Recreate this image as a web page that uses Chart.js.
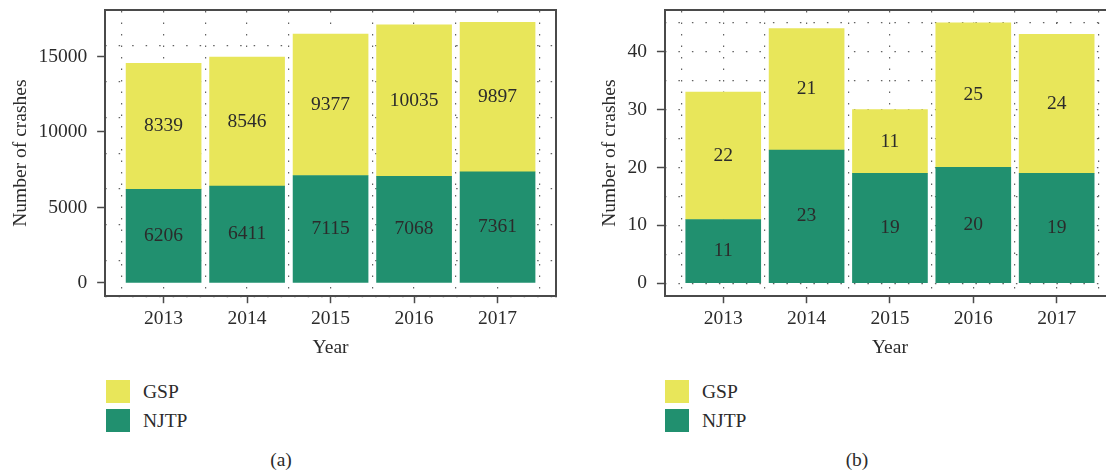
<!DOCTYPE html>
<html>
<head>
<meta charset="utf-8">
<script src="https://cdn.jsdelivr.net/npm/chart.js@4.4.1/dist/chart.umd.min.js"></script>
<style>
  body { margin: 0; width: 1106px; height: 470px; overflow: hidden; background: #fff; position: relative;
         font-family: "Liberation Serif", serif; color: #2b2b2b; }
  .panel { position: absolute; top: 0; }
  .legend { position: absolute; top: 377px; list-style: none; margin: 0; padding: 0; font-size: 19.5px; }
  .legend li { display: flex; align-items: center; height: 29px; }
  .legend .box { width: 24px; height: 23px; margin-right: 13px; }
  .caption { position: absolute; top: 449px; width: 60px; text-align: center; font-size: 19.5px; line-height: 22px; }
</style>
</head>
<body>
<div class="panel" style="left:0"><canvas id="chartA" width="560" height="364"></canvas></div>
<div class="panel" style="left:589px"><canvas id="chartB" width="530" height="364"></canvas></div>
<ul class="legend" id="legendA" style="left:106px"></ul>
<ul class="legend" id="legendB" style="left:665px"></ul>
<div class="caption" style="left:251px">(a)</div>
<div class="caption" style="left:827px">(b)</div>

<script>
// data
const years = [2013, 2014, 2015, 2016, 2017];
const njtpA = [6206, 6411, 7115, 7068, 7361];
const gspA = [8339, 8546, 9377, 10035, 9897];
const njtpB = [11, 23, 19, 20, 19];
const gspB = [22, 21, 11, 25, 24];
const yTicksA = [0, 5000, 10000, 15000];
const yTicksB = [0, 10, 20, 30, 40];

const GREEN = "#21906f";
const YELLOW = "#e8e65a";
const TEXT = "#2b2b2b";
const AXIS = "#4a4a4a";
const DOTS = "rgba(70,70,70,0.85)";
const FONT = { family: "'Liberation Serif', serif", size: 19.5 };

// numbers in the middle of each bar segment
const barValueLabels = {
  id: "barValueLabels",
  afterDatasetsDraw(chart) {
    const ctx = chart.ctx;
    ctx.save();
    ctx.font = "19.5px 'Liberation Serif', serif";
    ctx.fillStyle = TEXT;
    ctx.textAlign = "center";
    ctx.textBaseline = "middle";
    chart.data.datasets.forEach((ds, i) => {
      chart.getDatasetMeta(i).data.forEach((bar, j) => {
        const { x, y, base } = bar.getProps(["x", "y", "base"], true);
        ctx.fillText(ds.data[j], x, (y + base) / 2);
      });
    });
    ctx.restore();
  },
};

const noPad = (s) => {
  s.paddingTop = 0;
  s.paddingBottom = 0;
};

const makeChart = (id, njtp, gsp, yMin, yMax, yTicks, gridStep) =>
  new Chart(document.getElementById(id), {
    type: "bar",
    data: {
      labels: years,
      datasets: [
        { label: "NJTP", data: njtp, backgroundColor: GREEN, barThickness: 75 },
        { label: "GSP", data: gsp, backgroundColor: YELLOW, barThickness: 75 },
      ],
    },
    options: {
      responsive: false,
      animation: false,
      layout: { padding: { top: 10, right: 4 } },
      plugins: { legend: { display: false }, tooltip: { enabled: false } },
      scales: {
        x: {
          type: "linear",
          position: "bottom",
          stacked: true,
          offset: false,
          min: 2012.3,
          max: 2017.7,
          afterBuildTicks: (s) => { s.ticks = years.map((v) => ({ value: v })); },
          ticks: { callback: (v) => String(v), font: FONT, color: TEXT, padding: 4, maxRotation: 0 },
          grid: { offset: false, drawOnChartArea: false, tickLength: 7, tickColor: AXIS, tickWidth: 1.5 },
          border: { color: AXIS, width: 2 },
          title: { display: true, text: "Year", font: FONT, color: TEXT, padding: { top: 2, bottom: 4 } },
        },
        x2: {
          type: "linear",
          position: "top",
          offset: false,
          min: 2012.3,
          max: 2017.7,
          ticks: { display: false, stepSize: 0.5, includeBounds: false },
          grid: { offset: false, color: DOTS, lineWidth: 1.2, drawTicks: false },
          border: { display: true, color: AXIS, width: 2, dash: [1.5, 10] },
          afterFit: (s) => { s.height = 0; },
        },
        y: {
          stacked: true,
          min: yMin,
          max: yMax,
          afterBuildTicks: (s) => { s.ticks = yTicks.map((v) => ({ value: v })); },
          afterFit: noPad,
          ticks: { callback: (v) => String(v), font: FONT, color: TEXT, padding: 10 },
          grid: { drawOnChartArea: false, tickLength: 8, tickColor: AXIS, tickWidth: 1.5 },
          border: { color: AXIS, width: 2 },
          title: { display: true, text: "Number of crashes", font: FONT, color: TEXT, padding: { top: 9, bottom: -4 } },
        },
        y2: {
          position: "right",
          min: yMin,
          max: yMax,
          ticks: { display: false, stepSize: gridStep, includeBounds: false },
          grid: { color: DOTS, lineWidth: 1.2, drawTicks: false },
          border: { display: true, color: AXIS, width: 2, dash: [1.5, 12] },
          afterFit: (s) => { s.width = 0; noPad(s); },
        },
      },
    },
    plugins: [barValueLabels],
  });

const buildLegend = (chart, elId) => {
  const ul = document.getElementById(elId);
  chart.data.datasets.slice().reverse().forEach((ds) => {
    const li = document.createElement("li");
    const box = document.createElement("span");
    box.className = "box";
    box.style.background = ds.backgroundColor;
    li.appendChild(box);
    li.appendChild(document.createTextNode(ds.label));
    ul.appendChild(li);
  });
};

const chartA = makeChart("chartA", njtpA, gspA, -880, 18080, yTicksA, 2500);
const chartB = makeChart("chartB", njtpB, gspB, -2.25, 47.2, yTicksB, 5);
buildLegend(chartA, "legendA");
buildLegend(chartB, "legendB");
</script>
</body>
</html>
